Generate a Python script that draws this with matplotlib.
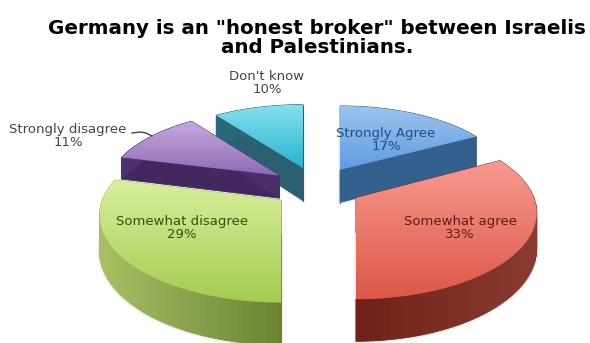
import numpy as np
import matplotlib
matplotlib.use('Agg')
import matplotlib.pyplot as plt
from matplotlib.colors import LinearSegmentedColormap
from matplotlib.patches import Polygon

# survey answers, clockwise from twelve o'clock
answers = ['Strongly Agree', 'Somewhat agree', 'Somewhat disagree', 'Strongly disagree', "Don't know"]
shares = [17, 33, 29, 11, 10]

title_lines = 'Germany is an "honest broker" between Israelis\nand Palestinians.'

# top face gradient (far, near), wall gradient (left, right), label colour
top_colors = [('#9cc4f0', '#5e9ce0'), ('#f89a90', '#dc5848'), ('#d8ee9c', '#a4cc50'),
              ('#c6a8e0', '#8c6ab2'), ('#86e0f2', '#28b4cc')]
wall_colors = [('#2c5a8a', '#33608c'), ('#6e2018', '#8a3a30'), ('#a8c064', '#6a8434'),
               ('#4e3270', '#42285e'), ('#2a6a7a', '#2a6070')]
text_colors = ['#1f4f7c', '#5e1a14', '#2c5410', '#444444', '#444444']

# projection of the pie plane to pixels
cx, cy = 317, 187
rx, ry = 174, 80
persp = 0.17
explode = 0.26
depth = 34
wall_scale = [1, 1, 1, 0.68, 1]
draw_order = [0, 4, 3, 2, 1]


def slice_outline(start, end):
    a = np.radians(np.linspace(start, end, 80))
    mid = np.radians((start + end) / 2)
    ox, oy = explode * np.sin(mid), explode * np.cos(mid)
    dx = np.r_[0, np.sin(a), 0]
    Y = np.r_[oy, oy + np.cos(a), oy]
    s = 1 / (1 + persp * Y)
    # the sideways offset stays unscaled so cut edges at 180 degrees stay upright
    return cx + rx * (ox + dx * s), cy - ry * Y * s, s


def gradient_patch(ax, xy, c0, c1, z):
    cmap = LinearSegmentedColormap.from_list('g', [c0, c1])
    x0, x1 = xy[:, 0].min(), xy[:, 0].max()
    y0, y1 = xy[:, 1].min(), xy[:, 1].max()
    im = ax.imshow(np.linspace(0, 1, 64)[:, None], cmap=cmap, aspect='auto',
                   extent=[x0, x1, y1, y0], zorder=z)
    patch = Polygon(xy, closed=True, fc='none', ec='none', transform=ax.transData)
    ax.add_patch(patch)
    im.set_clip_path(patch)


fig = plt.figure(figsize=(5.9, 3.43), dpi=100)
ax = fig.add_axes([0, 0, 1, 1])
ax.axis('off')

edges = np.r_[0, np.cumsum(shares)] / sum(shares) * 360

for order, i in enumerate(draw_order):
    sx, sy, s = slice_outline(edges[i], edges[i + 1])
    d = depth * s * wall_scale[i]
    z = 2 + order * 3
    wall_map = LinearSegmentedColormap.from_list('w', wall_colors[i])
    # faint halo under the lower rim
    halo = np.c_[sx, sy + d]
    ax.add_patch(Polygon(halo, closed=True, fc='#999999', ec='#999999', lw=3, alpha=0.15, zorder=z))
    # walls first, the top face goes over them
    for k in range(len(sx) - 1):
        quad = [(sx[k], sy[k]), (sx[k + 1], sy[k + 1]),
                (sx[k + 1], sy[k + 1] + d[k + 1]), (sx[k], sy[k] + d[k])]
        t = np.clip((sx[k] - sx.min()) / (sx.max() - sx.min()), 0, 1)
        col = wall_map(t)
        ax.add_patch(Polygon(quad, closed=True, fc=col, ec=col, lw=0.6, zorder=z + 1))
    gradient_patch(ax, np.c_[sx, sy], *top_colors[i], z + 2)

ax.set_xlim(0, 590)
ax.set_ylim(343, 0)

# labels
font = 'DejaVu Sans'
label_pos = [(386, 140), (460, 228), (182, 228), (68, 136), (267, 83)]
for name, v, (x, y), c in zip(answers, shares, label_pos, text_colors):
    ax.text(x, y, f'{name}\n{v}%', ha='center', va='center', fontsize=9.5,
            color=c, family=font, linespacing=1.0, zorder=30)

# leader for the small slice
ax.plot([132, 140, 146, 152], [133, 132, 133, 136], color='#444444', lw=1, zorder=30)

ax.text(317, 38, title_lines, ha='center', va='center', fontsize=14.3, fontweight='bold',
        color='black', family=font, linespacing=1.0, zorder=30)

fig.savefig('out.png', dpi=100)
